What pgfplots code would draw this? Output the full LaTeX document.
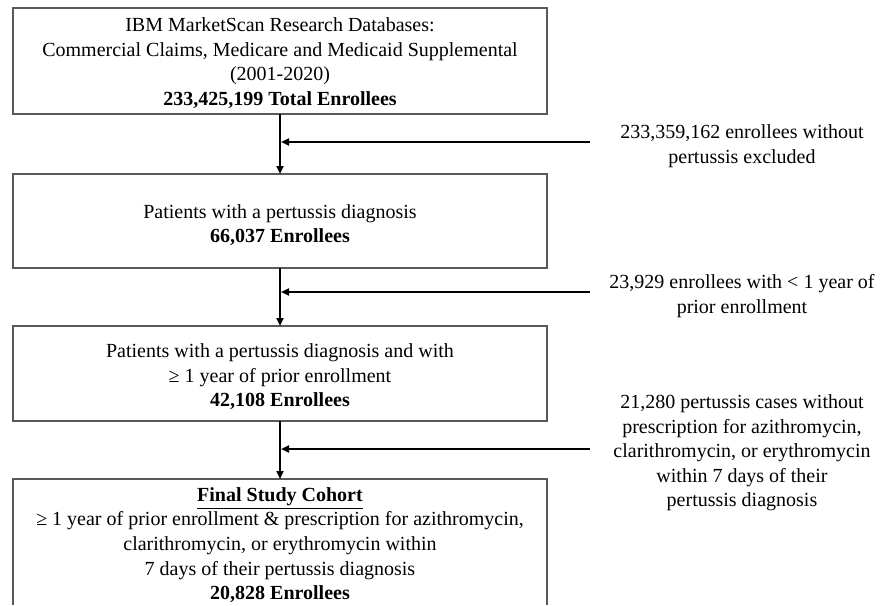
\documentclass[border=0pt]{standalone}
\usepackage{fontspec}
\setmainfont{Liberation Serif}
\usepackage{pgfplots}
\pgfplotsset{compat=1.18}
\usetikzlibrary{arrows.meta}

\begin{document}
\begin{tikzpicture}
\begin{axis}[
    width=446.5pt, height=302.5pt, scale only axis,
    xmin=0, xmax=893, ymin=0, ymax=605, y dir=reverse,
    axis lines=none, clip=false,
]
% boxes
\draw[black!65, line width=0.65pt] (axis cs:13,8) rectangle (axis cs:547,114);
\draw[black!65, line width=0.65pt] (axis cs:13,174) rectangle (axis cs:547,268);
\draw[black!65, line width=0.65pt] (axis cs:13,326) rectangle (axis cs:547,421);
\draw[black!65, line width=0.65pt] (axis cs:13,605) -- (axis cs:13,479) -- (axis cs:547,479) -- (axis cs:547,605);

% arrows
\tikzset{flow/.style={line width=1pt, -{Triangle[length=4pt,width=3.5pt]}}}
\draw[flow] (axis cs:280,114) -- (axis cs:280,174);
\draw[flow] (axis cs:280,268) -- (axis cs:280,326);
\draw[flow] (axis cs:280,421) -- (axis cs:280,479);
\draw[flow] (axis cs:590,142) -- (axis cs:281,142);
\draw[flow] (axis cs:590,292) -- (axis cs:281,292);
\draw[flow] (axis cs:590,449) -- (axis cs:281,449);

% box texts
\tikzset{txt/.style={align=center, inner sep=0pt, font=\fontsize{10}{12.3}\selectfont}}
\node[txt] at (axis cs:280,63) {IBM MarketScan Research Databases:\\
  Commercial Claims, Medicare and Medicaid Supplemental\\
  (2001-2020)\\
  \textbf{233,425,199 Total Enrollees}};
\node[txt] at (axis cs:280,225) {Patients with a pertussis diagnosis\\
  \textbf{66,037 Enrollees}};
\node[txt] at (axis cs:280,377) {Patients with a pertussis diagnosis and with\\
  ≥ 1 year of prior enrollment\\
  \textbf{42,108 Enrollees}};
\node[txt] at (axis cs:280,545) {\underline{\textbf{Final Study Cohort}}\\
  ≥ 1 year of prior enrollment \& prescription for azithromycin,\\
  clarithromycin, or erythromycin within\\
  7 days of their pertussis diagnosis\\
  \textbf{20,828 Enrollees}};

% exclusion texts
\node[txt] at (axis cs:742,146) {233,359,162 enrollees without\\
  pertussis excluded};
\node[txt] at (axis cs:742,296) {23,929 enrollees with < 1 year of\\
  prior enrollment};
\node[txt] at (axis cs:742,453) {21,280 pertussis cases without\\
  prescription for azithromycin,\\
  clarithromycin, or erythromycin\\
  within 7 days of their\\
  pertussis diagnosis};
\end{axis}
\pgfresetboundingbox
\path (current axis.south west) rectangle (current axis.north east);
\end{tikzpicture}
\end{document}
